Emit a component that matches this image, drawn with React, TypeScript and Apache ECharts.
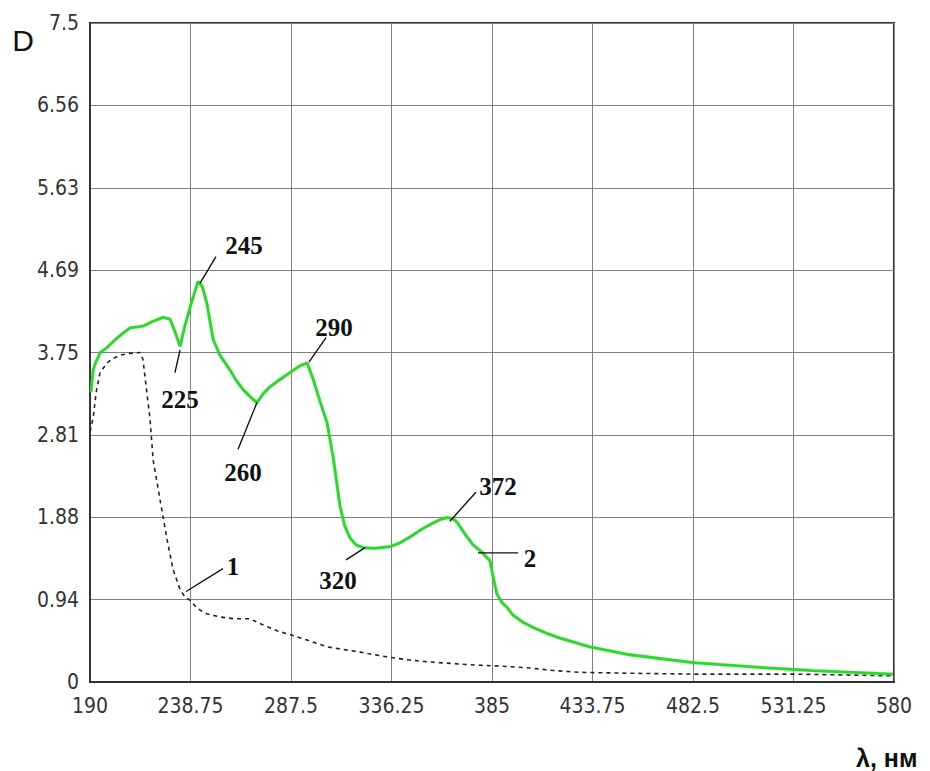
import React, { useEffect, useRef } from "react";
import * as echarts from "echarts";

const X_MIN = 190;
const X_MAX = 580;
const X_STEP = 48.75;
const Y_MIN = 0;
const Y_MAX = 7.5;
const Y_STEP = 0.9375;
const yTickLabels = ["0", "0.94", "1.88", "2.81", "3.75", "4.69", "5.63", "6.56", "7.5"];

// Curve 2 (green): [λ, D]
const curve2: [number, number][] = [
  [190.5, 3.3], [191.5, 3.55], [193, 3.65], [195, 3.75], [198, 3.8], [201, 3.87],
  [205, 3.95], [209.4, 4.03], [215.7, 4.05], [220, 4.1], [225.4, 4.15], [228.8, 4.13],
  [231, 4.0], [233.7, 3.82], [236, 4.05], [239, 4.3], [242.4, 4.56], [244.5, 4.5],
  [246.8, 4.3], [249.7, 3.9], [253, 3.72], [257.9, 3.55], [261, 3.43], [264.2, 3.33],
  [268, 3.24], [271, 3.18], [274, 3.28], [277.3, 3.36], [282, 3.44], [287, 3.52],
  [292, 3.6], [295.3, 3.63], [298.2, 3.45], [301.5, 3.2], [305, 2.95], [308, 2.55],
  [311.3, 2.0], [313.5, 1.78], [316.1, 1.64], [319, 1.56], [322.4, 1.53], [328, 1.52],
  [335.5, 1.54], [340, 1.58], [345.2, 1.65], [351, 1.74], [356.4, 1.81], [360, 1.85],
  [363.2, 1.87], [366, 1.86], [368, 1.82], [372, 1.68], [375.8, 1.56], [380, 1.48],
  [384, 1.38], [385.5, 1.2], [387.4, 1.0], [390, 0.9], [392.3, 0.85], [395.2, 0.76],
  [400, 0.68], [405, 0.62], [412, 0.55], [418, 0.5], [432.5, 0.4], [451.9, 0.31],
  [482.5, 0.22], [518.4, 0.16], [540.7, 0.13], [560, 0.11], [579.5, 0.09],
];

// Curve 1 (dashed black): [λ, D]
const curve1: [number, number][] = [
  [190, 2.85], [191.5, 3.0], [193, 3.3], [194.9, 3.52], [198.2, 3.63], [201, 3.68],
  [204.6, 3.72], [209, 3.74], [214.3, 3.75], [215.7, 3.67], [217.6, 3.29], [219.1, 3.0],
  [220.6, 2.53], [224, 2.07], [227.4, 1.62], [230.3, 1.28], [233.7, 1.05], [236, 0.97],
  [238.5, 0.93], [241.9, 0.84], [246, 0.78], [253.1, 0.74], [260, 0.72], [267.6, 0.72],
  [271, 0.68], [275.9, 0.63], [281, 0.58], [287, 0.54], [295, 0.48], [305, 0.4],
  [313, 0.37], [321, 0.34], [328, 0.31], [335.5, 0.28], [345, 0.25], [353.5, 0.23],
  [366, 0.21], [379.2, 0.19], [390, 0.18], [403.4, 0.16], [415, 0.13], [427.7, 0.11],
  [450, 0.1], [482.5, 0.09], [531, 0.09], [579.5, 0.07],
];

// Annotations: label, leader start, leader end, text centre (data coords)
const annLabels = ["245", "225", "290", "260", "320", "372", "2", "1"];
const annFrom: [number, number][] = [
  [243.4, 4.54], [233.7, 3.78], [296.2, 3.64], [271.0, 3.18],
  [323.4, 1.53], [364.6, 1.83], [378.2, 1.47], [236.6, 1.03],
];
const annTo: [number, number][] = [
  [251.1, 4.84], [231.2, 3.52], [304.5, 3.92], [261.8, 2.65],
  [314.2, 1.39], [377.2, 2.16], [397.6, 1.47], [254.5, 1.29],
];
const annText: [number, number][] = [
  [264.7, 4.97], [233.7, 3.21], [308.4, 4.04], [264.2, 2.38],
  [310.3, 1.16], [387.9, 2.22], [403.4, 1.41], [259.4, 1.31],
];

const TICK_FONT = "'Liberation Sans Narrow', 'DejaVu Sans Condensed', 'Liberation Sans', sans-serif";

export default function App() {
  const ref = useRef<HTMLDivElement>(null);
  useEffect(() => {
    document.body.style.margin = "0";
    if (!ref.current) return;
    const chart = echarts.init(ref.current, null, { renderer: "svg" });
    chart.setOption({
      animation: false,
      backgroundColor: "#ffffff",
      grid: {
        left: 90,
        right: 36,
        top: 23,
        bottom: 89,
        show: true,
        borderColor: "#333",
        borderWidth: 2,
        backgroundColor: "transparent",
      },
      xAxis: {
        type: "value",
        min: X_MIN,
        max: X_MAX,
        interval: X_STEP,
        axisLine: { show: true, onZero: false, lineStyle: { color: "#333", width: 2 } },
        axisTick: { show: false },
        splitLine: { show: true, lineStyle: { color: "#808080", width: 1 } },
        axisLabel: {
          color: "#333",
          fontFamily: TICK_FONT,
          fontSize: 21,
          margin: 13,
          formatter: (v: number) => String(v),
        },
      },
      yAxis: {
        type: "value",
        min: Y_MIN,
        max: Y_MAX,
        interval: Y_STEP,
        axisLine: { show: true, onZero: false, lineStyle: { color: "#333", width: 2 } },
        axisTick: { show: false },
        splitLine: { show: true, lineStyle: { color: "#808080", width: 1 } },
        axisLabel: {
          color: "#333",
          fontFamily: TICK_FONT,
          fontSize: 21,
          margin: 11,
          formatter: (v: number) => {
            const i = Math.round(v / Y_STEP);
            return yTickLabels[i] ?? "";
          },
        },
      },
      series: [
        {
          name: "1",
          type: "line",
          data: curve1,
          showSymbol: false,
          smooth: false,
          lineStyle: { color: "#222", width: 1.6, type: [4, 4] },
          z: 3,
        },
        {
          name: "2",
          type: "line",
          data: curve2,
          showSymbol: false,
          smooth: false,
          lineStyle: {
            color: "#3ccc3c",
            width: 2.8,
            shadowColor: "rgba(60,200,60,0.45)",
            shadowBlur: 3,
          },
          z: 4,
        },
      ],
    });

    const px = (p: [number, number]) => chart.convertToPixel({ gridIndex: 0 }, p) as number[];
    const graphics: any[] = [];
    annLabels.forEach((lab, i) => {
      const a = px(annFrom[i]);
      const b = px(annTo[i]);
      const t = px(annText[i]);
      graphics.push({
        type: "line",
        shape: { x1: a[0], y1: a[1], x2: b[0], y2: b[1] },
        style: { stroke: "#111", lineWidth: 1.4 },
        z: 10,
      });
      graphics.push({
        type: "text",
        x: t[0],
        y: t[1],
        style: {
          text: lab,
          fill: "#111",
          font: "bold 25px 'Liberation Serif', 'Times New Roman', serif",
          textAlign: "center",
          textVerticalAlign: "middle",
        },
        z: 10,
      });
    });
    graphics.push({
      type: "text",
      x: 23,
      y: 40,
      style: {
        text: "D",
        fill: "#111",
        font: "30px 'Liberation Sans', Arial, sans-serif",
        textAlign: "center",
        textVerticalAlign: "middle",
      },
    });
    graphics.push({
      type: "text",
      x: 856,
      y: 758,
      style: {
        text: "λ, нм",
        fill: "#111",
        font: "bold 25px 'Liberation Sans', Arial, sans-serif",
        textAlign: "left",
        textVerticalAlign: "middle",
      },
    });
    chart.setOption({ graphic: graphics });

    return () => chart.dispose();
  }, []);
  return <div ref={ref} style={{ width: 930, height: 771 }} />;
}
